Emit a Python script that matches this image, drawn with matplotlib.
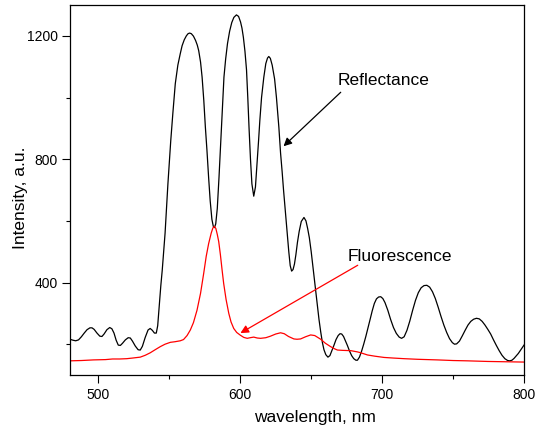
"""
plot.py - reflectance and fluorescence spectra of the sample.
"""

import matplotlib
matplotlib.use('Agg')
import matplotlib.pyplot as plt
from matplotlib.ticker import MultipleLocator

# ── Data ───────────────────────────────────────────────────────────────────
refl_wl = [480, 482, 484, 486, 488, 490, 492, 494, 495.5, 497, 499, 501,
           502.5, 504, 506, 508, 509.5, 511, 512.5, 514, 515.5, 517, 519,
           521, 522.5, 524, 526, 528, 529.5, 531, 533, 535, 536.5, 538,
           539.5, 540.8, 541.8, 543, 544, 545, 546, 547, 548, 549, 550, 551,
           552.5, 554.2, 556, 557.7, 559, 560.5, 562, 563.2, 564.3, 565.5,
           567, 568.5, 569.7, 570.7, 572, 573.1, 574.3, 575.4, 576.5, 577.7,
           578.8, 580, 581, 581.8, 582.7, 583.8, 585, 586.5, 587.5, 588.5,
           589.7, 591, 592.5, 594, 595.5, 597.3, 598.8, 600.2, 601.2, 602.2,
           603.3, 604.4, 605.3, 606.2, 607.2, 608.2, 609.5, 610.7, 611.9,
           612.9, 613.8, 615, 616.6, 618, 619.2, 620.1, 621.2, 622.5, 624.2,
           625.5, 627.2, 628.4, 629.5, 630.5, 631.8, 633.1, 634.2, 635.2,
           636.2, 637.2, 638.2, 639.2, 640.3, 641.5, 643, 644.9, 646.3, 647.5,
           648.7, 650, 651, 652, 653.2, 654.3, 655.5, 656.7, 657.9, 659,
           660.3, 661.8, 663.2, 664.5, 666, 667.5, 669, 670.3, 671.5, 672.8,
           674.2, 675.5, 677, 678.5, 680, 681.5, 682.6, 684, 685.5, 687,
           688.5, 690, 691.5, 693, 694.5, 696, 697.5, 699, 700.5, 702, 704,
           706, 708, 710, 712, 713.7, 715.5, 717.5, 719.5, 721.5, 723.5,
           725.5, 727.5, 729.5, 731.5, 733.5, 735.5, 737.5, 739.5, 741.5,
           743.5, 745.5, 747.5, 749.5, 751, 752.5, 754.5, 756.5, 758.5,
           760.5, 762.5, 764.5, 766.5, 768.5, 770.5, 772.5, 774.5, 776.5,
           778.5, 780.5, 782.5, 784.5, 786.5, 788.5, 790, 791.5, 793, 794.5,
           796, 797.5, 799, 800]
refl_int = [216, 213, 211, 214, 224, 236, 247, 253, 253, 248, 236, 226,
            225, 233, 247, 254, 250, 236, 213, 197, 196, 203, 214,
            221, 220, 210, 194, 182, 181, 193, 222, 246, 251, 245,
            236, 236, 260, 330, 390, 440, 500, 560, 640, 720, 790, 860,
            950, 1045, 1105, 1142, 1168, 1187, 1200, 1207, 1209, 1207,
            1199, 1185, 1170, 1152, 1115, 1066, 990, 904, 830, 740,
            665, 605, 582, 578, 590, 640, 740, 880, 980, 1066,
            1125, 1175, 1215, 1243, 1260, 1268, 1263, 1245, 1225, 1195,
            1150, 1090, 1000, 900, 800, 720, 680, 710, 790,
            860, 926, 1000, 1066, 1110, 1128, 1133, 1127, 1105, 1060,
            1000, 904, 820, 760, 700, 630, 560, 500, 455,
            437, 442, 460, 490, 530, 565, 598, 611, 600, 575,
            545, 500, 460, 420, 370, 325, 280, 240, 205, 182,
            166, 158, 163, 178, 196, 215, 228, 234, 233, 225,
            210, 196, 178, 163, 153, 148, 148, 158, 177, 200,
            225, 252, 280, 308, 332, 347, 353, 354, 348, 335, 310,
            280, 254, 235, 223, 219, 224, 245, 275, 310, 342,
            367, 383, 390, 391, 385, 370, 348, 320, 290,
            262, 238, 218, 205, 200, 201, 210, 227, 245,
            262, 274, 281, 284, 282, 274, 262, 248, 233,
            214, 196, 179, 164, 153, 147, 146, 148, 154, 162,
            170, 180, 190, 197]

fluo_wl = [480, 488, 496.5, 505, 510, 515, 520, 524, 529.5, 533, 536.5, 540,
           543.6, 547, 550.7, 554, 557.7, 560, 562.5, 564.8, 567, 569.5, 572,
           574.2, 576, 577.7, 579.5, 580.7, 581.8, 582.8, 583.8, 584.8, 586,
           587.2, 588.3, 590, 591.9, 593.5, 595.4, 597.5, 600.1, 602.5, 604.9,
           607, 609.5, 612, 614.3, 618, 621.3, 625, 628.4, 631, 634, 637.8,
           640, 642.5, 646, 649.6, 652.5, 656.7, 660, 663.7, 666.5, 668.5,
           672, 677.9, 682.6, 685, 689.7, 695, 701.4, 708, 715.5, 725, 739,
           750, 760, 774.5, 787, 800]
fluo_int = [146, 147, 149, 150, 152, 152, 153, 155, 158, 164, 172, 182,
            192, 200, 206, 208, 211, 215, 228, 246, 270, 310, 365,
            429, 485, 526, 560, 577, 582, 575, 556, 533, 490,
            440, 397, 345, 300, 272, 251, 238, 229, 222, 219,
            221, 223, 220, 219, 221, 226, 233, 237, 234, 225, 217,
            216, 217, 224, 230, 228, 216, 203, 192, 185, 181,
            180, 179, 175, 172, 165, 161, 157, 155, 153, 151, 149,
            147, 146, 144, 143, 142]

plt.rcParams['font.family'] = ['Liberation Sans', 'DejaVu Sans']

# ── Figure ─────────────────────────────────────────────────────────────────
fig = plt.figure(figsize=(5.37, 4.32), dpi=100)
ax = fig.add_axes([0.1304, 0.1319, 0.8454, 0.8565])

ax.plot(refl_wl, refl_int, color='black', lw=0.9)
ax.plot(fluo_wl, fluo_int, color='red', lw=0.9)

ax.set_xlim(480, 800)
ax.set_ylim(100, 1300)
ax.xaxis.set_major_locator(MultipleLocator(100))
ax.xaxis.set_minor_locator(MultipleLocator(50))
ax.yaxis.set_major_locator(MultipleLocator(400))
ax.yaxis.set_minor_locator(MultipleLocator(200))
ax.tick_params(which='major', direction='out', length=6, width=0.8,
               labelsize=10, pad=3)
ax.tick_params(which='minor', direction='out', length=3, width=0.8)
for sp in ax.spines.values():
    sp.set_linewidth(0.9)

ax.set_xlabel('wavelength, nm', fontsize=12.5)
ax.set_ylabel('Intensity, a.u.', fontsize=12.5)
ax.xaxis.set_label_coords(0.54, -0.095)
ax.yaxis.set_label_coords(-0.092, 0.478)

# annotations
ax.text(668.7, 1055, 'Reflectance', fontsize=12.5, ha='left', va='center')
ax.annotate('', xy=(630.5, 842), xytext=(670.8, 1017),
            arrowprops=dict(arrowstyle='-|>', color='black', lw=0.9,
                            mutation_scale=12, shrinkA=0, shrinkB=0))
ax.text(675.8, 485, 'Fluorescence', fontsize=12.5, ha='left', va='center')
ax.annotate('', xy=(600.1, 236), xytext=(682.8, 456),
            arrowprops=dict(arrowstyle='-|>', color='red', lw=0.9,
                            mutation_scale=12, shrinkA=0, shrinkB=0))

fig.savefig('out.png', dpi=100)
